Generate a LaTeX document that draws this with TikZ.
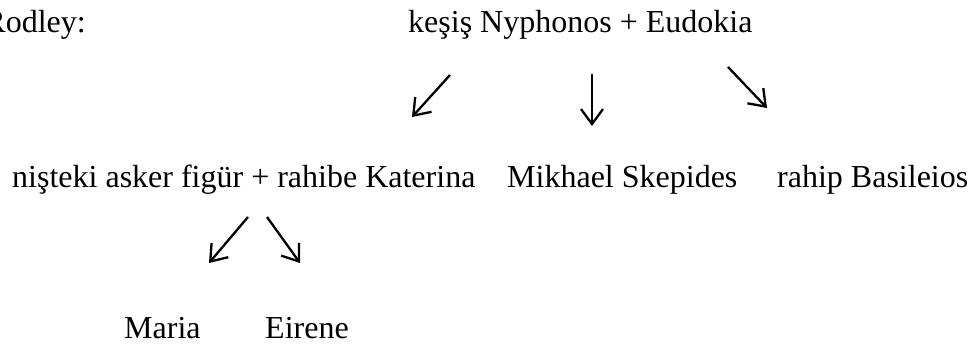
\documentclass[tikz,border=0pt]{standalone}
\usepackage{fontspec}
\setmainfont{Liberation Serif}
\usetikzlibrary{arrows.meta}
\begin{document}
\begin{tikzpicture}[x=1pt,y=-1pt,
  lbl/.style={inner sep=0pt,anchor=base west,font=\fontsize{32}{38}\selectfont},
  arr/.style={line width=2.3pt,-{Straight Barb[length=15pt,width=22pt,line width=2.3pt]}}]
\useasboundingbox (0,0) rectangle (971,345);
\node[lbl,anchor=base east] (rod) at (86,33) {Rodley:};
\node[lbl] (top) at (408,33) {keşiş Nyphonos + Eudokia};
\node[lbl] (kat) at (12,187) {nişteki asker figür + rahibe Katerina};
\node[lbl] (mik) at (507,187) {Mikhael Skepides};
\node[lbl] (bas) at (777,187) {rahip Basileios};
\node[lbl] (mar) at (124,338) {Maria};
\node[lbl] (eir) at (265,338) {Eirene};
\coordinate (a1s) at (450,75);  \coordinate (a1e) at (412,117);
\coordinate (a2s) at (592,74);  \coordinate (a2e) at (592,126);
\coordinate (a3s) at (728,67);  \coordinate (a3e) at (767,108);
\coordinate (b1s) at (248,217); \coordinate (b1e) at (209,263);
\coordinate (b2s) at (267,217); \coordinate (b2e) at (300,263);
\draw[arr] (a1s) -- (a1e);
\draw[arr] (a2s) -- (a2e);
\draw[arr] (a3s) -- (a3e);
\draw[arr] (b1s) -- (b1e);
\draw[arr] (b2s) -- (b2e);
\end{tikzpicture}
\end{document}
